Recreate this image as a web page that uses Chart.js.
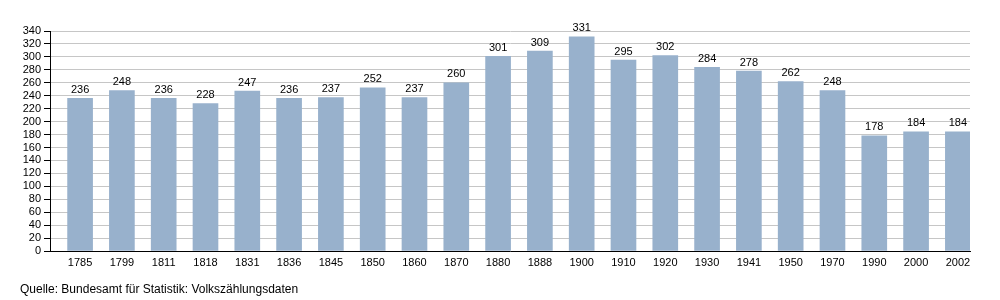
<!DOCTYPE html>
<html>
<head>
<meta charset="utf-8">
<script src="https://cdn.jsdelivr.net/npm/chart.js@4"></script>
<style>
    html, body { margin: 0; padding: 0; background: #fff; }
    #wrap { width: 1000px; height: 300px; }
</style>
</head>
<body>
<div id="wrap"><canvas id="chart" width="1000" height="300"></canvas></div>
<script>
// Einwohner nach Volkszählung
const years = ["1785", "1799", "1811", "1818", "1831", "1836", "1845", "1850", "1860", "1870", "1880",
    "1888", "1900", "1910", "1920", "1930", "1941", "1950", "1970", "1990", "2000", "2002"];
const population = [236, 248, 236, 228, 247, 236, 237, 252, 237, 260, 301,
    309, 331, 295, 302, 284, 278, 262, 248, 178, 184, 184];
const yTicks = [0, 20, 40, 60, 80, 100, 120, 140, 160, 180, 200, 220, 240, 260, 280, 300, 320, 340];
const source = "Quelle: Bundesamt für Statistik: Volkszählungsdaten";

const fontFamily = "'Liberation Sans', Arial, sans-serif";

// value labels above each bar
const valueLabels = {
    id: "valueLabels",
    afterDatasetsDraw(chart) {
        const ctx = chart.ctx;
        ctx.save();
        ctx.font = "11px " + fontFamily;
        ctx.fillStyle = "#000";
        ctx.textAlign = "center";
        ctx.textBaseline = "bottom";
        chart.getDatasetMeta(0).data.forEach((bar, i) => {
            ctx.fillText(population[i], bar.x, bar.y - 3);
        });
        ctx.restore();
    }
};

// source line under the chart
const sourceNote = {
    id: "sourceNote",
    afterDraw(chart) {
        const ctx = chart.ctx;
        ctx.save();
        ctx.font = "12px " + fontFamily;
        ctx.fillStyle = "#000";
        ctx.textAlign = "left";
        ctx.textBaseline = "middle";
        ctx.fillText(source, 20, 290);
        ctx.restore();
    }
};

new Chart(document.getElementById("chart"), {
    type: "bar",
    data: {
        datasets: [{
            data: population.map((v, i) => ({ x: i, y: v })),
            backgroundColor: "#98b1cc",
            borderWidth: 0,
            barThickness: 25
        }]
    },
    options: {
        responsive: false,
        animation: false,
        layout: { padding: { top: 31, right: 30, bottom: 27, left: 0 } },
        plugins: {
            legend: { display: false },
            tooltip: { enabled: false }
        },
        scales: {
            x: {
                type: "linear",
                offset: false,
                min: -0.72,
                max: 21.29,
                afterBuildTicks: scale => {
                    scale.ticks = years.map((_, i) => ({ value: i }));
                },
                afterFit: scale => { scale.height = 22; },
                grid: { display: false, drawTicks: false },
                border: { display: true, color: "#000", width: 1 },
                ticks: {
                    autoSkip: false,
                    maxRotation: 0,
                    padding: 5,
                    color: "#000",
                    font: { family: fontFamily, size: 11 },
                    callback: value => years[value]
                }
            },
            y: {
                min: 0,
                max: 340,
                afterBuildTicks: scale => {
                    scale.ticks = yTicks.map(v => ({ value: v }));
                },
                afterFit: scale => { scale.width = 50; },
                grid: {
                    color: "#c6c6c6",
                    tickColor: "#000",
                    tickLength: 6,
                    lineWidth: 1
                },
                border: { display: true, color: "#000", width: 1 },
                ticks: {
                    autoSkip: false,
                    padding: 3,
                    color: "#000",
                    font: { family: fontFamily, size: 11 }
                }
            }
        }
    },
    plugins: [valueLabels, sourceNote]
});
</script>
</body>
</html>
